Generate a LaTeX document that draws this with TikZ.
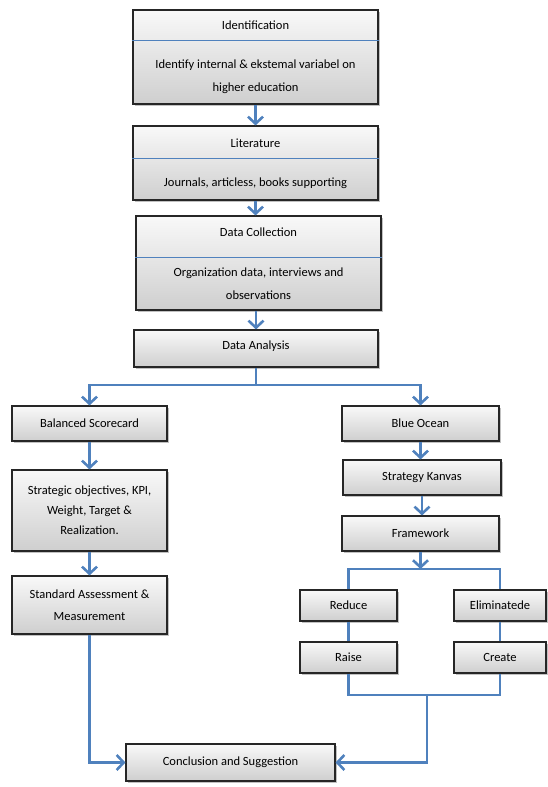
\documentclass[tikz,border=0pt]{standalone}
\usepackage{fontspec}
\setmainfont{Carlito}
\usetikzlibrary{arrows.meta,shadows}
\definecolor{linkblue}{RGB}{79,129,189}

\begin{document}
\begin{tikzpicture}[x=1pt,y=-1pt,
  >/.tip={Straight Barb[length=7pt,width=15pt]},
  procbox/.style={draw=black!85,line width=1.1pt,top color=gray!5,bottom color=gray!38,
    drop shadow={shadow xshift=1.5pt,shadow yshift=-1.8pt,fill=gray!60,opacity=0.8},inner sep=0pt},
  txt/.style={font=\fontsize{12.5}{22.5}\selectfont,align=center,inner sep=0pt},
  link/.style={draw=linkblue,line width=2.6pt},
  divider/.style={draw=linkblue,line width=0.7pt}]
\useasboundingbox (0,0) rectangle (548,787);

% main column
\node (ident)   [procbox,minimum width=245pt,minimum height=94pt] at (255.5,57)  {};
\node (lit)     [procbox,minimum width=245pt,minimum height=74pt] at (255.5,163) {};
\node (datacol) [procbox,minimum width=245pt,minimum height=94pt] at (258.5,263) {};
\node (dataan)  [procbox,minimum width=244pt,minimum height=37pt] at (256,348.5) {};

\coordinate (identcut) at (0,40);
\coordinate (litcut)   at (0,158);
\coordinate (colcut)   at (0,257);
\draw[divider] (ident.west |- identcut) -- (ident.east |- identcut);
\draw[divider] (lit.west |- litcut) -- (lit.east |- litcut);
\draw[divider] (datacol.west |- colcut) -- (datacol.east |- colcut);

\node (identhead) [txt] at (255.5,25)  {Identification};
\node (identtext) [txt] at (255.5,76.5) {Identify internal \& ekstemal variabel on\\higher education};
\node (lithead)   [txt] at (255.5,143) {Literature};
\node (littext)   [txt] at (255.5,183) {Journals, articless, books supporting};
\node (colhead)   [txt] at (258.5,232) {Data Collection};
\node (coltext)   [txt] at (258.5,283.5) {Organization data, interviews and\\observations};
\node (antext)    [txt] at (256,346)   {Data Analysis};

% left branch
\node (bsc)   [procbox,minimum width=155pt,minimum height=35pt,txt] at (89.5,423.5) {Balanced Scorecard};
\node (strat) [procbox,minimum width=155pt,minimum height=81pt,txt,font=\fontsize{12.5}{20}\selectfont] at (89.5,510.5)
  {Strategic objectives, KPI,\\Weight, Target \&\\Realization.};
\node (std)   [procbox,minimum width=155pt,minimum height=58pt,txt] at (89.5,605)
  {Standard Assessment \&\\Measurement};

% right branch
\node (blue)   [procbox,minimum width=157pt,minimum height=35pt,txt] at (420.5,423.5) {Blue Ocean};
\node (kanvas) [procbox,minimum width=158pt,minimum height=35pt,txt] at (422,477.5)   {Strategy Kanvas};
\node (frame)  [procbox,minimum width=157pt,minimum height=35pt,txt] at (420.5,533.5) {Framework};
\node (reduce) [procbox,minimum width=97pt,minimum height=31pt,txt] at (348.5,605.5) {Reduce};
\node (elim)   [procbox,minimum width=92pt,minimum height=31pt,txt] at (500,605.5)   {Eliminatede};
\node (raise)  [procbox,minimum width=97pt,minimum height=31pt,txt] at (348.5,657.5) {Raise};
\node (create) [procbox,minimum width=92pt,minimum height=31pt,txt] at (500,657.5)   {Create};

\node (concl) [procbox,minimum width=209pt,minimum height=37pt,txt] at (230.5,762.5) {Conclusion and Suggestion};

% connectors
\coordinate (dsplit) at (256,385);
\coordinate (fsplit) at (420.5,569);
\coordinate (rsplit) at (427,695);

\draw[link,->] (ident) -- (lit);
\draw[link,->] (lit.south) -- (lit.south |- datacol.north);
\draw[link,->] (datacol.south -| dataan) -- (dataan.north);
\draw[link] (dataan.south) -- (dsplit);
\draw[link,->] (dsplit) -| (bsc.north);
\draw[link,->] (dsplit) -| (blue.north);
\draw[link,->] (bsc) -- (strat);
\draw[link,->] (strat) -- (std);
\draw[link,->] (blue.south) -- (blue.south |- kanvas.north);
\draw[link,->] (kanvas.south) -- (kanvas.south |- frame.north);
\draw[link,->] (frame.south) -- (fsplit);
\draw[link] (reduce.north) |- (fsplit) -| (elim.north);
\draw[link] (reduce) -- (raise);
\draw[link] (elim) -- (create);
\draw[link] (raise.south) |- (rsplit);
\draw[link] (create.south) |- (rsplit);
\draw[link,->] (rsplit) |- (concl.east);
\draw[link,->] (std.south) |- (concl.west);
\end{tikzpicture}
\end{document}
